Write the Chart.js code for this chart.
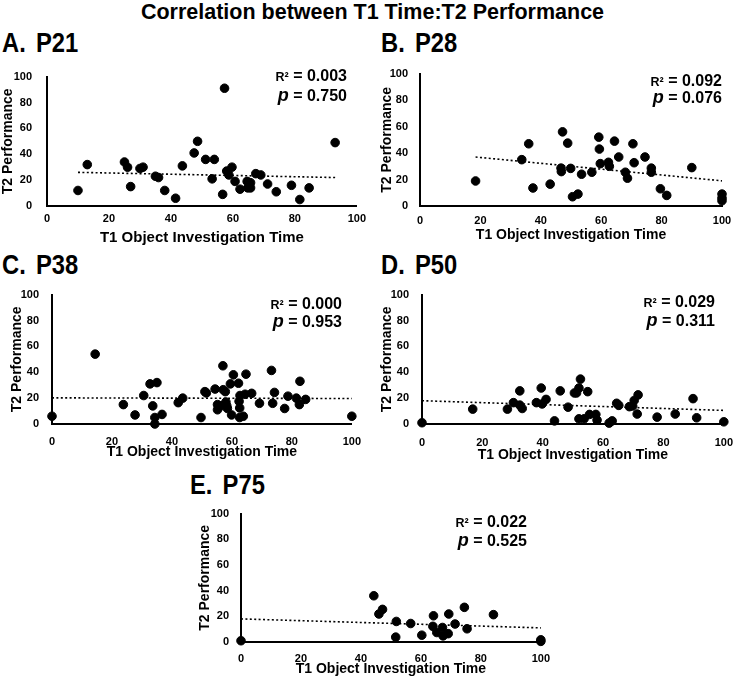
<!DOCTYPE html>
<html lang="en">
<head>
    <meta charset="UTF-8">
    <title>Correlation between T1 Time:T2 Performance</title>
    <style>
        body {
            margin: 0;
            width: 745px;
            height: 681px;
            background: #ffffff;
            position: relative;
            overflow: hidden;
            font-family: Arial, "Liberation Sans", sans-serif;
            color: #000;
        }
        canvas { position: absolute; }
        .title {
            position: absolute;
            left: 0; width: 745px; top: 2px;
            text-align: center;
            font-size: 21.5px; line-height: 21px; font-weight: bold;
        }
        .lab {
            position: absolute;
            font-size: 27px; line-height: 27px; font-weight: bold;
            transform: scaleX(0.88);
            transform-origin: left top;
            white-space: nowrap;
            word-spacing: 4px;
        }
        .stat {
            position: absolute;
            font-size: 16px; line-height: 16px; font-weight: bold;
            white-space: nowrap;
            text-align: right;
        }
        .stat .r { font-size: 12.5px; }
        .stat i { font-size: 18px; }
    </style>
</head>
<body>
    <div class="title">Correlation between T1 Time:T2 Performance</div>

    <div class="lab" style="left:2px;top:30px">A. P21</div>
    <div class="lab" style="left:381px;top:30px">B. P28</div>
    <div class="lab" style="left:2px;top:252px">C. P38</div>
    <div class="lab" style="left:381px;top:252px">D. P50</div>
    <div class="lab" style="left:190px;top:472px">E. P75</div>

    <canvas id="cA"></canvas>
    <canvas id="cB"></canvas>
    <canvas id="cC"></canvas>
    <canvas id="cD"></canvas>
    <canvas id="cE"></canvas>

    <div id="stats"></div>

    <script src="https://cdn.jsdelivr.net/npm/chart.js"></script>
    <script>
        // P21
        const p21Time = [10, 13, 25, 26, 27, 30, 31, 35, 36, 38, 41.5, 43.7, 47.5, 48.6, 51.2, 54, 53.3, 56.7, 57.3, 58, 58.7, 59.7, 60.7, 62.3, 64.6, 65.7, 64.8, 65.7, 67.4, 69, 71.2, 74, 78.9, 81.6, 84.6, 93];
        const p21Perf = [12, 32, 34, 30, 15, 29, 30, 23, 22, 12, 6, 31, 41, 50, 36, 36, 21, 9, 91, 27, 24, 30, 19, 13, 19, 18, 14, 14, 25, 24, 17, 11, 16, 5, 14, 49];
        const p21TrendX = [10, 93];
        const p21TrendY = [26, 22];

        // P28
        const p28Time = [18.4, 33.7, 36, 37.4, 43.1, 47.2, 46.7, 46.8, 48.9, 49.9, 50.5, 52.3, 53.5, 56.9, 59.2, 59.4, 59.7, 62.4, 62.7, 64.4, 65.8, 68, 68.7, 70.5, 70.9, 74.5, 76.6, 76.6, 79.6, 81.7, 90, 100, 100, 100];
        const p28Perf = [18.9, 35, 47, 13.6, 16.5, 56, 28.6, 26, 47.5, 28.4, 7, 9, 24, 25.5, 52, 43, 32, 33, 30, 49, 37, 25.5, 21, 47, 32.7, 37, 28.6, 25.5, 13, 8, 29, 9, 6, 4];
        const p28TrendX = [18.4, 100];
        const p28TrendY = [37, 19];

        // P38
        const p38Time = [0, 14.4, 23.8, 27.7, 30.6, 32.7, 35, 33.6, 34.3, 34.3, 36.7, 42.1, 43.6, 49.7, 51, 51.5, 54.4, 55.2, 55.2, 56.3, 57, 57.1, 57.8, 58, 58.3, 58.5, 59.9, 59.5, 60.5, 62.2, 62.4, 62.6, 62.7, 62.6, 63.8, 64.4, 64.7, 66.6, 69.2, 73.2, 74.2, 73.6, 77.6, 78.7, 81.5, 82.7, 82.5, 84.6, 100];
        const p38Perf = [6, 54, 15, 7, 22, 31, 32, 14, 5, 0, 7.4, 16.5, 20, 5, 25, 24, 27, 15, 11, 14, 45, 26.5, 25, 17, 14, 12, 7, 31, 38, 31.5, 17.5, 12.4, 22, 5, 6, 23, 38.5, 23.7, 16, 41.4, 24.4, 16, 12, 21.5, 20, 33, 15, 19, 6];
        const p38TrendX = [0, 100];
        const p38TrendY = [20.2, 19.7];

        // P50
        const p50Time = [0, 16.8, 28.3, 30.3, 32.4, 32.4, 33.2, 37.9, 39.5, 39.8, 41.1, 43.9, 45.8, 48.4, 50.5, 51.2, 52, 52.5, 52, 53.7, 54.9, 55.5, 57.6, 58, 62, 63, 64.5, 65.2, 68.7, 69.8, 70.3, 71.6, 71.3, 77.9, 83.9, 89.8, 91, 100];
        const p50Perf = [1, 11.5, 11.5, 16.5, 25.6, 14.6, 12, 16.5, 27.8, 15.5, 19, 2.4, 25.6, 13, 24, 24, 27.8, 34.7, 4, 4, 25, 7.4, 7.4, 3, 0.7, 2.4, 16, 14.4, 13.4, 13.9, 18.2, 22.5, 7.7, 5.3, 7.7, 19.6, 4.8, 1.7];
        const p50TrendX = [0, 100];
        const p50TrendY = [18, 10.5];

        // P75
        const p75Time = [0, 44.3, 46, 47.2, 51.8, 51.6, 56.6, 60.3, 64.2, 64, 65.3, 67.2, 67.4, 69.1, 69.3, 71.4, 74.5, 75.4, 84.2, 100, 100];
        const p75Perf = [1, 36, 21.8, 25.4, 16, 3.8, 14.4, 5.3, 20.4, 12.2, 7.4, 11.3, 4.8, 6.5, 21.8, 14, 27, 10.3, 21.3, 1.7, 0.5];
        const p75TrendX = [0, 100];
        const p75TrendY = [18, 11];

        const r2Values = ['0.003', '0.092', '0.000', '0.029', '0.022'];
        const pValues = ['0.750', '0.076', '0.953', '0.311', '0.525'];
        const xTicks = [0, 20, 40, 60, 80, 100];

        // canvas box + fixed axis sizes so the plot areas line up with the figure
        const panels = [
            { id: 'cA', xs: p21Time, ys: p21Perf, tx: p21TrendX, ty: p21TrendY,
              box: [0, 55, 372, 195], pad: [10, 14], yw: 47, xh: 44, xtp: 6, xttp: 3.6, ytp: 0, yTick: 15, xtf: 15,
              stat: [398, 68, 87] },
            { id: 'cB', xs: p28Time, ys: p28Perf, tx: p28TrendX, ty: p28TrendY,
              box: [372, 55, 373, 195], pad: [11, 23], yw: 48, xh: 44, xtp: 8, xttp: 6.6, ytp: 6.6, yTick: 12, xtf: 14,
              stat: [23, 73, 89] },
            { id: 'cC', xs: p38Time, ys: p38Perf, tx: p38TrendX, ty: p38TrendY,
              box: [0, 275, 372, 195], pad: [10, 18], yw: 52, xh: 46, xtp: 11, xttp: 9.6, ytp: 8.6, yTick: 13, xtf: 14,
              stat: [403, 296, 313] },
            { id: 'cD', xs: p50Time, ys: p50Perf, tx: p50TrendX, ty: p50TrendY,
              box: [372, 275, 373, 195], pad: [10, 12], yw: 50, xh: 46, xtp: 12, xttp: 6.6, ytp: 6.6, yTick: 13, xtf: 14,
              stat: [30, 294, 312] },
            { id: 'cE', xs: p75Time, ys: p75Perf, tx: p75TrendX, ty: p75TrendY,
              box: [190, 495, 370, 186], pad: [8, 13], yw: 51, xh: 39, xtp: 10, xttp: 3.6, ytp: 7, yTick: 12, xtf: 14,
              stat: [218, 514, 532] }
        ];

        const tickFont = { family: 'Arial', size: 11, weight: 'bold' };
        const statsDiv = document.getElementById('stats');

        panels.forEach((p, i) => {
            const cv = document.getElementById(p.id);
            cv.width = p.box[2];
            cv.height = p.box[3];
            cv.style.left = p.box[0] + 'px';
            cv.style.top = p.box[1] + 'px';

            new Chart(cv, {
                type: 'scatter',
                data: {
                    datasets: [{
                        data: p.xs.map((x, k) => ({ x: x, y: p.ys[k] })),
                        backgroundColor: '#000',
                        borderColor: '#000',
                        pointRadius: 4.3,
                        clip: false
                    }, {
                        type: 'line',
                        data: p.tx.map((x, k) => ({ x: x, y: p.ty[k] })),
                        borderColor: '#000',
                        borderWidth: 1.6,
                        borderDash: [2, 2.4],
                        pointRadius: 0,
                        fill: false,
                        clip: false
                    }]
                },
                options: {
                    responsive: false,
                    animation: false,
                    layout: { padding: { top: p.pad[0], right: p.pad[1], left: 0, bottom: 0 } },
                    plugins: { legend: { display: false }, tooltip: { enabled: false } },
                    scales: {
                        x: {
                            type: 'linear', min: 0, max: 100,
                            afterFit: s => { s.height = p.xh; },
                            afterBuildTicks: s => { s.ticks = xTicks.map(v => ({ value: v })); },
                            ticks: { color: '#000', font: tickFont, padding: p.xtp },
                            grid: { display: false, drawTicks: false },
                            border: { color: '#000', width: 2 },
                            title: { display: true, text: 'T1 Object Investigation Time', color: '#000',
                                     font: { family: 'Arial', size: p.xtf, weight: 'bold' },
                                     padding: { top: 0, bottom: p.xttp } }
                        },
                        y: {
                            type: 'linear', min: 0, max: 100,
                            afterFit: s => { s.width = p.yw; },
                            ticks: { stepSize: 20, color: '#000', font: tickFont, padding: p.yTick },
                            grid: { display: false, drawTicks: false },
                            border: { color: '#000', width: 2 },
                            title: { display: true, text: 'T2 Performance', color: '#000',
                                     font: { family: 'Arial', size: 14, weight: 'bold' },
                                     padding: { top: p.ytp, bottom: 0 } }
                        }
                    }
                }
            });

            const r = document.createElement('div');
            r.className = 'stat';
            r.style.right = p.stat[0] + 'px';
            r.style.top = p.stat[1] + 'px';
            r.innerHTML = '<span class="r">R²</span> = ' + r2Values[i];
            statsDiv.appendChild(r);

            const pv = document.createElement('div');
            pv.className = 'stat';
            pv.style.right = p.stat[0] + 'px';
            pv.style.top = p.stat[2] + 'px';
            pv.innerHTML = '<i>p</i> = ' + pValues[i];
            statsDiv.appendChild(pv);
        });
    </script>
</body>
</html>
